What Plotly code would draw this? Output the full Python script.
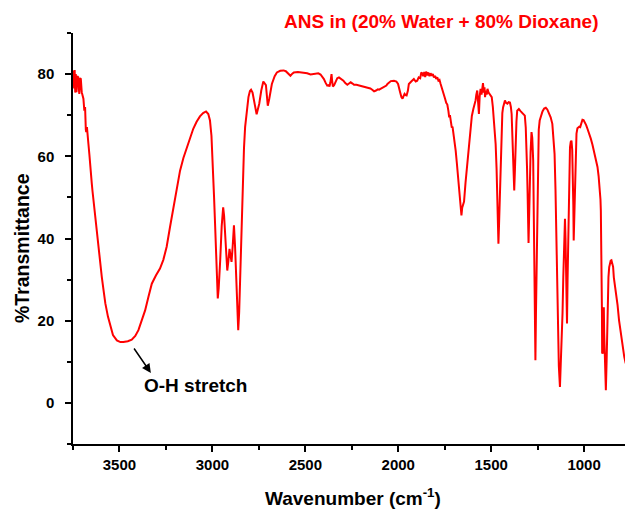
import plotly.graph_objects as go

wavenumber = [3748,3744,3741,3738,3735,3731,3727,3721,3718,3716,3712,3708,3703,3698,3694,3689,3685,3681,3679,3675,3672,3667,3662,3658,3654,3651,3649,3645,3640,3635,3631,3622,3613,3604,3595,3585,3576,3562,3549,3535,3514,3495,3479,3455,3434,3415,3398,3380,3362,3344,3326,3304,3282,3264,3246,3228,3210,3192,3174,3156,3138,3120,3103,3085,3067,3050,3034,3022,3013,3005,2998,2991,2985,2978,2974,2971,2966,2962,2958,2950,2942,2937,2931,2925,2920,2914,2908,2903,2897,2891,2884,2878,2872,2866,2861,2856,2851,2845,2838,2830,2824,2815,2806,2798,2792,2784,2776,2768,2762,2755,2748,2737,2726,2712,2706,2702,2694,2680,2665,2653,2635,2617,2605,2598,2588,2580,2570,2562,2540,2508,2490,2472,2458,2445,2430,2418,2410,2400,2390,2382,2375,2370,2365,2359,2356,2352,2345,2337,2328,2319,2306,2295,2285,2274,2265,2256,2246,2238,2225,2210,2202,2185,2166,2150,2140,2130,2120,2110,2103,2090,2076,2064,2058,2040,2023,2010,2001,1995,1990,1983,1977,1972,1966,1960,1955,1948,1943,1930,1916,1906,1898,1890,1882,1876,1871,1866,1860,1855,1850,1844,1838,1832,1826,1820,1814,1808,1802,1796,1790,1784,1778,1772,1766,1760,1754,1748,1742,1736,1730,1726,1722,1718,1712,1708,1704,1698,1691,1685,1679,1673,1668,1664,1660,1656,1651,1646,1638,1632,1626,1618,1611,1604,1596,1590,1584,1580,1575,1570,1566,1562,1557,1552,1548,1544,1540,1536,1533,1528,1524,1520,1514,1508,1502,1497,1491,1485,1480,1476,1471,1467,1463,1461,1458,1453,1449,1445,1440,1436,1431,1426,1420,1413,1406,1399,1394,1390,1386,1383,1379,1376,1372,1369,1364,1360,1351,1342,1333,1326,1319,1314,1310,1307,1304,1301,1299,1296,1292,1288,1283,1279,1274,1271,1268,1265,1262,1259,1255,1251,1248,1244,1239,1232,1224,1215,1206,1198,1189,1180,1171,1165,1159,1154,1150,1145,1141,1136,1130,1126,1121,1116,1112,1107,1103,1100,1098,1095,1092,1089,1085,1080,1076,1072,1068,1064,1061,1058,1056,1052,1049,1045,1041,1036,1032,1026,1021,1015,1009,1003,996,989,982,973,964,955,946,937,928,922,916,912,910,908,906,904,903,900,897,895,894,892,890,886,883,879,876,872,869,865,862,857,853,848,844,840,838,833,828,820,812,803,793,784,776]

transmittance = [80.9,76.5,81.0,75.5,80.0,75.6,79.5,79.2,76.0,75.2,79.0,78.8,75.6,75.0,74.0,71.1,72.0,66.5,65.9,67.1,66.0,63.0,60.5,57.4,56.5,54.8,53.4,51.5,49.3,47.5,45.2,41.5,37.9,34.0,30.6,27.2,24.2,21.0,18.5,16.5,15.2,14.8,14.8,15.0,15.4,16.3,17.7,19.9,22.5,25.8,29.0,31.0,32.7,34.8,38.0,42.8,47.6,52.2,56.5,59.6,62.2,64.6,66.7,68.4,69.7,70.5,70.9,70.3,68.7,65.0,59.0,50.0,42.8,33.5,27.5,25.4,28.0,31.0,34.7,43.0,47.6,45.5,40.3,35.0,32.2,34.5,37.5,36.0,34.3,38.0,43.2,38.0,30.6,22.0,17.7,22.0,30.6,43.0,54.9,62.0,67.1,71.5,74.4,75.9,76.2,75.5,73.6,71.0,70.2,71.5,72.8,76.0,78.2,77.3,74.5,72.3,74.0,77.6,79.5,80.4,80.8,80.9,80.7,80.4,79.8,79.6,80.1,80.4,80.5,80.4,80.2,79.9,80.0,80.2,80.2,79.9,79.5,78.8,77.8,77.2,77.3,77.0,78.0,80.0,78.5,77.0,77.3,78.3,79.0,79.2,78.8,78.4,77.8,77.4,77.7,78.0,77.7,77.4,77.4,77.2,77.2,77.0,76.8,76.5,76.2,75.8,76.0,76.3,76.2,76.5,76.8,77.2,77.6,78.3,78.4,78.2,77.6,76.8,75.6,74.4,74.0,74.6,75.2,74.9,74.8,76.0,77.6,78.2,78.8,78.2,78.4,79.2,79.0,80.4,80.2,79.5,80.5,79.3,80.6,79.7,80.4,79.5,80.2,79.6,80.0,79.2,79.6,78.8,79.2,78.4,78.6,77.6,76.8,76.0,75.2,74.0,73.0,72.6,71.0,69.5,70.0,68.5,67.0,67.2,66.0,64.0,61.4,58.5,55.7,52.5,49.3,47.0,45.6,47.5,48.5,49.0,53.6,56.5,61.0,65.0,67.9,69.8,71.5,72.5,73.6,75.0,76.0,73.0,70.3,74.5,76.4,75.0,77.0,77.8,75.5,76.8,74.4,76.0,75.0,76.4,75.5,75.2,74.8,74.4,72.0,68.7,66.0,63.0,57.0,50.9,43.0,38.7,43.0,50.9,59.0,67.1,70.5,71.9,73.0,73.6,73.0,72.8,73.2,73.1,72.0,70.3,65.0,60.6,55.0,51.7,57.0,63.0,68.5,71.1,71.5,71.0,70.5,70.3,69.9,67.0,63.0,57.0,50.9,44.0,38.9,45.0,54.9,61.0,65.9,64.5,59.0,48.0,34.7,22.0,10.4,22.0,34.7,50.0,63.0,66.5,68.7,70.0,70.9,71.6,71.8,71.4,70.5,69.5,67.9,65.0,60.6,52.0,42.8,30.0,18.5,9.0,3.9,8.0,14.4,22.0,30.6,38.0,44.8,40.0,34.7,26.0,19.3,30.0,42.8,54.0,62.2,63.5,63.8,61.5,57.4,48.0,39.5,47.0,54.9,61.0,65.5,66.8,67.1,67.2,67.1,68.0,68.9,68.8,68.3,67.6,66.7,65.6,64.3,62.8,61.0,59.3,57.4,55.2,52.5,49.5,46.8,41.0,34.7,22.0,12.0,12.3,12.0,18.0,23.3,17.0,12.0,6.0,3.1,10.0,18.5,25.0,30.6,33.0,33.9,34.6,34.7,34.0,33.1,30.5,29.8,28.5,27.4,23.8,20.1,17.0,13.6,11.2,9.6]

x_ticks = [3500, 3000, 2500, 2000, 1500, 1000]
y_ticks = [0, 20, 40, 60, 80]

title_text = "ANS in (20% Water + 80% Dioxane)"
x_title = "Wavenumber (cm<sup>-1</sup>)"
y_title = "%Transmittance"
peak_label = "O-H stretch"

FONT = "Liberation Sans, Arial, sans-serif"
PW, PH = 552, 411  # plot area size in px

fig = go.Figure()
fig.add_trace(go.Scatter(
    x=wavenumber, y=transmittance, mode="lines",
    line=dict(color="#ff0000", width=2), showlegend=False,
))

fig.update_layout(
    width=625, height=510,
    margin=dict(l=73, r=0, t=33, b=66),
    paper_bgcolor="white", plot_bgcolor="white",
    font=dict(family=FONT, color="black"),
    xaxis=dict(
        range=[3750, 780], showline=True, linecolor="black", linewidth=1.5,
        ticks="outside", ticklen=6, tickwidth=1.5, tickcolor="black",
        tickvals=x_ticks, showgrid=False, zeroline=False,
        minor=dict(dtick=250, tick0=3750, ticks="outside", ticklen=4, tickwidth=1.5, tickcolor="black", showgrid=False),
        tickfont=dict(size=15, family=FONT, weight="bold"),
    ),
    yaxis=dict(
        range=[-10, 90], showline=True, linecolor="black", linewidth=1.5,
        ticks="outside", ticklen=6, tickwidth=1.5, tickcolor="black",
        tickvals=y_ticks, showgrid=False, zeroline=False,
        minor=dict(dtick=10, tick0=-10, ticks="outside", ticklen=4, tickwidth=1.5, tickcolor="black", showgrid=False),
        tickfont=dict(size=15, family=FONT, weight="bold"),
        ticklabelstandoff=8,
    ),
)

# chart title (top right, red)
fig.add_annotation(
    x=1.0 - 25/PW, y=1 + 11.3/PH, xref="paper", yref="paper",
    xanchor="right", yanchor="middle", text=title_text, showarrow=False,
    font=dict(size=19, color="#ff0000", family=FONT, weight="bold"),
)
# axis titles
fig.add_annotation(
    x=(353-73)/PW, y=-(497-444)/PH, xref="paper", yref="paper",
    xanchor="center", yanchor="middle", text=x_title, showarrow=False,
    font=dict(size=19, family=FONT, weight="bold", color="black"),
)
fig.add_annotation(
    x=(22-73)/PW, y=(444-248)/PH, xref="paper", yref="paper",
    xanchor="center", yanchor="middle", text=y_title, showarrow=False, textangle=-90,
    font=dict(size=19.5, family=FONT, weight="bold", color="black"),
)

fig.add_annotation(
    x=3331, y=7.3, ax=3427, ay=13.6, xref="x", yref="y", axref="x", ayref="y",
    text="", showarrow=True, arrowhead=2, arrowsize=1.2, arrowwidth=1.5, arrowcolor="black",
)
fig.add_annotation(
    x=3092, y=4.2, xref="x", yref="y", text=peak_label, showarrow=False,
    font=dict(size=19, family=FONT, weight="bold", color="black"),
)

fig.write_html("out.html")
